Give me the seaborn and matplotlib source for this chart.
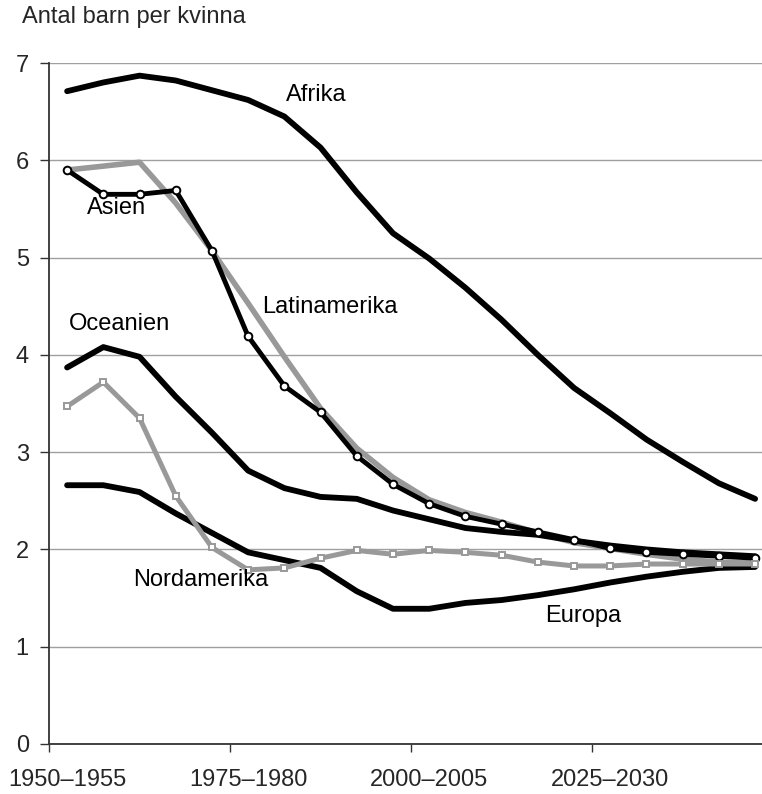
import matplotlib
matplotlib.use("Agg")
import matplotlib.pyplot as plt
import seaborn as sns
import pandas as pd

periods = ["1950–1955", "1955–1960", "1960–1965", "1965–1970", "1970–1975",
           "1975–1980", "1980–1985", "1985–1990", "1990–1995", "1995–2000",
           "2000–2005", "2005–2010", "2010–2015", "2015–2020", "2020–2025",
           "2025–2030", "2030–2035", "2035–2040", "2040–2045", "2045–2050"]
tick_label_periods = ["1950–1955", "1975–1980", "2000–2005", "2025–2030"]

afrika = [6.71, 6.80, 6.87, 6.82, 6.72, 6.62, 6.45, 6.13, 5.67, 5.25,
          4.99, 4.69, 4.36, 4.00, 3.66, 3.40, 3.13, 2.90, 2.68, 2.52]
asien = [5.90, 5.65, 5.65, 5.69, 5.07, 4.19, 3.68, 3.41, 2.96, 2.67,
         2.47, 2.34, 2.26, 2.18, 2.10, 2.01, 1.97, 1.95, 1.93, 1.91]
latinamerika = [5.90, 5.94, 5.98, 5.56, 5.07, 4.53, 3.98, 3.45, 3.04, 2.74,
                2.51, 2.38, 2.28, 2.17, 2.07, 2.01, 1.95, 1.90, 1.87, 1.86]
oceanien = [3.87, 4.08, 3.98, 3.57, 3.20, 2.81, 2.63, 2.54, 2.52, 2.40,
            2.31, 2.22, 2.18, 2.15, 2.09, 2.04, 2.00, 1.97, 1.95, 1.93]
nordamerika = [3.47, 3.72, 3.35, 2.55, 2.02, 1.79, 1.81, 1.91, 1.99, 1.95,
               1.99, 1.97, 1.94, 1.87, 1.83, 1.83, 1.85, 1.85, 1.85, 1.85]
europa = [2.66, 2.66, 2.59, 2.37, 2.17, 1.97, 1.89, 1.81, 1.57, 1.39,
          1.39, 1.45, 1.48, 1.53, 1.59, 1.66, 1.72, 1.77, 1.81, 1.82]

y_label = "Antal barn per kvinna"
y_ticks = [0, 1, 2, 3, 4, 5, 6, 7]

sns.set_theme(style="white")
plt.rcParams["font.family"] = ["Liberation Sans", "DejaVu Sans"]

BLACK = "#000000"
GRAY = "#999999"
FS = 17

fig = plt.figure(figsize=(7.62, 7.94), dpi=100)
ax = fig.add_axes([49 / 762, 1 - 744 / 794, (762 - 49) / 762, (744 - 63) / 794])

pos = list(range(len(periods)))


def draw(values, color, lw, **kw):
    df = pd.DataFrame({"x": pos, "v": values})
    sns.lineplot(data=df, x="x", y="v", color=color, linewidth=lw, ax=ax,
                 solid_joinstyle="round", solid_capstyle="round", **kw)


draw(afrika, BLACK, 4.2)
draw(latinamerika, GRAY, 4.0)
draw(oceanien, BLACK, 4.2)
draw(europa, BLACK, 4.2)
draw(asien, BLACK, 3.5, marker="o", markersize=5.5, markerfacecolor="white",
     markeredgecolor=BLACK, markeredgewidth=1.4)
draw(nordamerika, GRAY, 3.6, marker="s", markersize=5.0, markerfacecolor="white",
     markeredgecolor=GRAY, markeredgewidth=1.4)

ax.set_xlim(-0.5, 19.19)
ax.set_ylim(0, 7)
ax.set_xlabel("")
ax.set_ylabel("")

ax.set_yticks(y_ticks)
ax.yaxis.grid(True, color="#a0a0a0", linewidth=1.0)
ax.xaxis.grid(False)
ax.set_axisbelow(True)

for s in ["top", "right"]:
    ax.spines[s].set_visible(False)
for s in ["left", "bottom"]:
    ax.spines[s].set_color("#333333")
    ax.spines[s].set_linewidth(1.3)

ax.tick_params(axis="y", direction="out", length=6.5, width=1.0, color="#333333",
               labelsize=FS, pad=8, left=True)
ax.set_yticklabels([str(t) for t in y_ticks])

ax.set_xticks([-0.5, 4.5, 9.5, 14.5])
ax.set_xticklabels([])
ax.tick_params(axis="x", which="major", direction="out", length=6, width=1.0,
               color="#333333", bottom=True)
label_pos = [periods.index(p) for p in tick_label_periods]
ax.set_xticks(label_pos, minor=True)
ax.set_xticklabels(tick_label_periods, minor=True)
ax.tick_params(axis="x", which="minor", length=0, labelsize=FS, pad=18)

txt = dict(fontsize=FS, color="black", va="center", ha="left")
ax.text(6.05, 6.67, "Afrika", **txt)
ax.text(0.55, 5.51, "Asien", **txt)
ax.text(5.39, 4.49, "Latinamerika", **txt)
ax.text(0.06, 4.32, "Oceanien", **txt)
ax.text(1.82, 1.69, "Nordamerika", **txt)
ax.text(13.2, 1.32, "Europa", **txt)

fig.text(22 / 762, 1 - 17 / 794, y_label, fontsize=FS, ha="left", va="center")

fig.savefig("out.png", dpi=100)
